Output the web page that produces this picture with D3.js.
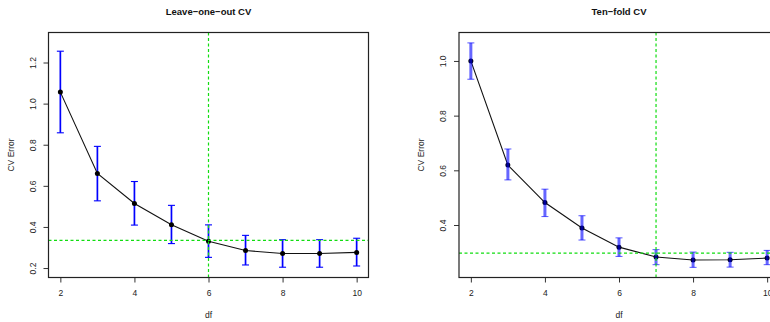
<!DOCTYPE html>
<html>
<head>
<meta charset="utf-8">
<script src="https://cdn.jsdelivr.net/npm/d3@7"></script>
<style>
  body { margin: 0; background: #fff; }
  svg { display: block; font-family: "Liberation Sans", Arial, sans-serif; }
</style>
</head>
<body>
<div id="chart"></div>
<script>
// chart data
const df = [2, 3, 4, 5, 6, 7, 8, 9, 10];

const looMean  = [1.056, 0.660, 0.514, 0.411, 0.330, 0.285, 0.271, 0.271, 0.276];
const looUpper = [1.255, 0.792, 0.621, 0.505, 0.410, 0.359, 0.338, 0.338, 0.345];
const looLower = [0.858, 0.527, 0.409, 0.319, 0.252, 0.215, 0.204, 0.204, 0.210];

const tenMean  = [1.000, 0.619, 0.482, 0.389, 0.319, 0.283, 0.272, 0.273, 0.279];
const tenUpper = [1.066, 0.678, 0.531, 0.434, 0.353, 0.310, 0.301, 0.300, 0.307];
const tenLower = [0.933, 0.565, 0.431, 0.345, 0.285, 0.255, 0.245, 0.246, 0.255];

const xTicks = [2, 4, 6, 8, 10];
const looYTicks = [0.2, 0.4, 0.6, 0.8, 1.0, 1.2];
const tenYTicks = [0.4, 0.6, 0.8, 1.0];

// chosen df and one-SE reference levels
const looBestDf = 6, looRef = 0.335;
const tenBestDf = 7, tenRef = 0.297;

const width = 770, height = 322;

const svg = d3.select('#chart')
  .append('svg')
  .attr('width', width)
  .attr('height', height);

// draw one panel
function drawPanel(cfg) {
  const g = svg.append('g').attr('transform', `translate(${cfg.left},${cfg.top})`);
  const w = cfg.w, h = cfg.h;

  const x = d3.scaleLinear().domain([2 - 0.32, 10 + 0.32]).range([0, w]);
  const y = d3.scaleLinear().domain(cfg.yDomain).range([h, 0]);

  const rows = df.map((d, i) => ({ df: d, mean: cfg.mean[i], lo: cfg.lower[i], hi: cfg.upper[i] }));

  // title
  svg.append('text')
    .attr('x', cfg.left + w / 2)
    .attr('y', 15)
    .attr('text-anchor', 'middle')
    .attr('font-size', 9.5)
    .attr('font-weight', 'bold')
    .attr('fill', '#111')
    .text(cfg.title);

  // x axis
  const xAxis = g.append('g')
    .attr('transform', `translate(0,${h})`)
    .call(d3.axisBottom(x).tickValues(xTicks).tickSize(5).tickPadding(7).tickFormat(d3.format('d')));
  xAxis.select('.domain').remove();
  xAxis.selectAll('text').attr('font-size', 8.5).attr('fill', '#222').attr('font-family', null);
  xAxis.selectAll('line').attr('stroke', '#333');

  // y axis, labels rotated like base R
  const yAxis = g.append('g')
    .call(d3.axisLeft(y).tickValues(cfg.yTicks).tickSize(5).tickFormat(d3.format('.1f')));
  yAxis.select('.domain').remove();
  yAxis.selectAll('line').attr('stroke', '#333');
  yAxis.selectAll('text')
    .attr('font-size', 8.5)
    .attr('fill', '#222')
    .attr('font-family', null)
    .attr('x', null).attr('dy', null)
    .attr('text-anchor', 'middle')
    .attr('transform', 'translate(-13,0) rotate(-90)');

  // axis titles
  g.append('text')
    .attr('transform', `translate(${-35},${h / 2}) rotate(-90)`)
    .attr('text-anchor', 'middle')
    .attr('font-size', 8.5)
    .attr('fill', '#222')
    .text('CV Error');
  g.append('text')
    .attr('x', w / 2)
    .attr('y', h + 40)
    .attr('text-anchor', 'middle')
    .attr('font-size', 8.5)
    .attr('fill', '#222')
    .text('df');

  const line = d3.line().x(d => x(d.df)).y(d => y(d.mean));

  const drawBars = () => {
    const bars = g.append('g')
      .attr('stroke', 'blue')
      .attr('stroke-opacity', cfg.barOpacity);
    bars.selectAll('line.bar')
      .data(rows).enter().append('line')
      .attr('class', 'bar')
      .attr('x1', d => x(d.df)).attr('x2', d => x(d.df))
      .attr('y1', d => y(d.lo)).attr('y2', d => y(d.hi))
      .attr('stroke-width', cfg.barWidth);
    ['lo', 'hi'].forEach(k => {
      bars.selectAll(`line.cap-${k}`)
        .data(rows).enter().append('line')
        .attr('class', `cap-${k}`)
        .attr('x1', d => x(d.df) - 3.5).attr('x2', d => x(d.df) + 3.5)
        .attr('y1', d => y(d[k])).attr('y2', d => y(d[k]))
        .attr('stroke-width', 1.1);
    });
  };

  const drawPoints = () => {
    g.append('path')
      .datum(rows)
      .attr('d', line)
      .attr('fill', 'none')
      .attr('stroke', '#111')
      .attr('stroke-width', 1.1);
    g.append('g').selectAll('circle')
      .data(rows).enter().append('circle')
      .attr('cx', d => x(d.df))
      .attr('cy', d => y(d.mean))
      .attr('r', 2.5)
      .attr('fill', '#000');
  };

  if (cfg.barsOnTop) { drawPoints(); drawBars(); } else { drawBars(); drawPoints(); }

  // reference lines
  g.append('line')
    .attr('x1', x(cfg.bestDf)).attr('x2', x(cfg.bestDf))
    .attr('y1', 0).attr('y2', h)
    .attr('stroke', '#11dd11').attr('stroke-width', 1.2)
    .attr('stroke-dasharray', '3,2.5');
  g.append('line')
    .attr('x1', 0).attr('x2', w)
    .attr('y1', y(cfg.ref)).attr('y2', y(cfg.ref))
    .attr('stroke', '#11dd11').attr('stroke-width', 1.2)
    .attr('stroke-dasharray', '3,2.5');

  // box
  g.append('rect')
    .attr('x', 0).attr('y', 0)
    .attr('width', w).attr('height', h)
    .attr('fill', 'none')
    .attr('stroke', '#222')
    .attr('stroke-width', 1.2);
}

drawPanel({
  title: 'Leave\u2212one\u2212out CV',
  left: 48.5, top: 32.5, w: 320, h: 245,
  yDomain: [0.154, 1.346], yTicks: looYTicks,
  mean: looMean, upper: looUpper, lower: looLower,
  bestDf: looBestDf, ref: looRef,
  barWidth: 1.7, barOpacity: 1, barsOnTop: false
});

drawPanel({
  title: 'Ten\u2212fold CV',
  left: 459, top: 32.5, w: 320, h: 245,
  yDomain: [0.208, 1.104], yTicks: tenYTicks,
  mean: tenMean, upper: tenUpper, lower: tenLower,
  bestDf: tenBestDf, ref: tenRef,
  barWidth: 3, barOpacity: 0.6, barsOnTop: true
});
</script>
</body>
</html>
